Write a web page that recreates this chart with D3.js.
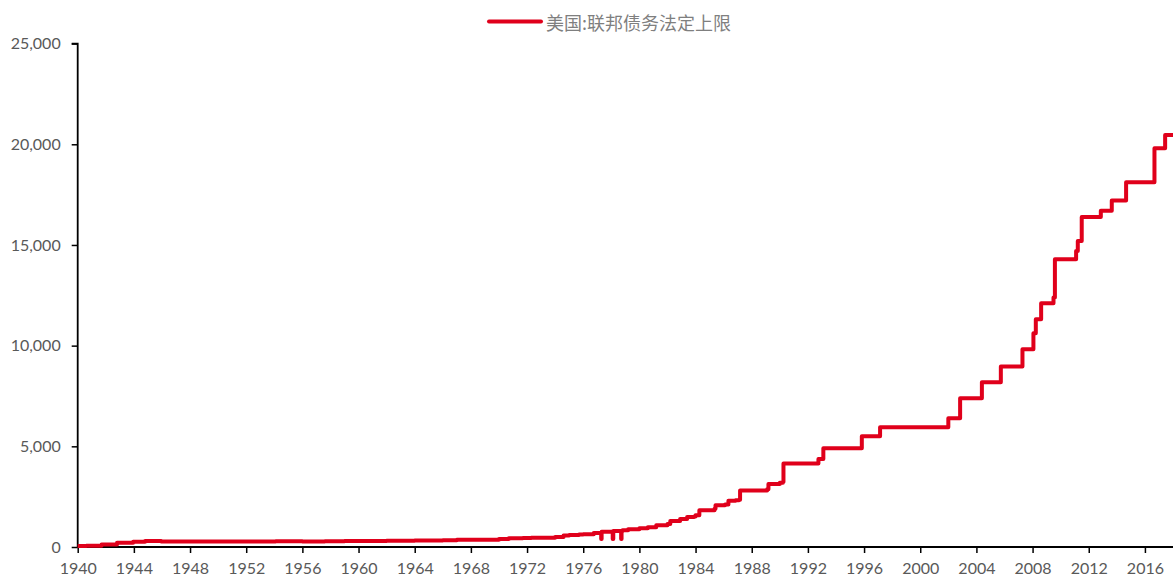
<!DOCTYPE html>
<html>
<head>
<meta charset="utf-8">
<script src="https://cdn.jsdelivr.net/npm/d3@7"></script>
<style>
  html, body { margin: 0; padding: 0; background: #fff; }
  svg { display: block; }
</style>
</head>
<body>
<svg id="chart" width="1173" height="579"></svg>
<script>
// Series name
const seriesName = "美国:联邦债务法定上限";
// Dates (fractional years, as positioned on the chart)
const dates = [
  1940.0, 1940.62, 1941.7, 1942.8, 1943.95, 1944.8, 1945.95, 1954.1, 1956.0, 1957.0,
  1957.6, 1958.2, 1959.0, 1960.0, 1961.0, 1961.7, 1962.0, 1962.85, 1963.1, 1963.35,
  1964.0, 1965.0, 1966.0, 1966.7, 1967.0, 1968.75, 1970.0, 1970.7, 1971.7, 1972.3,
  1974.0, 1974.6, 1975.0, 1975.7, 1976.0, 1976.75, 1977.28, 1977.31, 1978.1, 1978.14,
  1978.7, 1978.73, 1978.8, 1979.2, 1980.0, 1980.5, 1980.6, 1981.2, 1982.0, 1982.2,
  1982.9, 1983.4, 1983.9, 1984.0, 1984.27, 1985.35, 1985.42, 1986.1, 1986.34, 1986.85,
  1987.1, 1987.17, 1989.1, 1989.19, 1990.0, 1990.22, 1990.26, 1992.75, 1993.1, 1995.84,
  1997.14, 2002.0, 2002.84, 2004.39, 2005.74, 2007.28, 2008.06, 2008.23, 2008.61, 2009.49,
  2009.59, 2011.1, 2011.22, 2011.5, 2012.86, 2013.64, 2014.66, 2016.68, 2017.44, 2018.0
];
// Debt limit values (billion USD)
const values = [
  49, 65, 125, 210, 260, 300, 275, 281, 278, 275,
  280, 288, 295, 293, 298, 300, 308, 307, 309, 315,
  324, 328, 330, 336, 358, 365, 395, 430, 450, 465,
  495, 577, 595, 627, 636, 700, 400, 752, 400, 798,
  400, 798, 830, 879, 925, 935, 985, 1080, 1143, 1290,
  1389, 1490, 1520, 1573, 1824, 1904, 2079, 2111, 2300, 2320,
  2352, 2800, 2870, 3123, 3195, 3230, 4145, 4370, 4900, 5500,
  5950, 6400, 7384, 8184, 8965, 9815, 10615, 11315, 12104, 12394,
  14294, 14694, 15194, 16394, 16699, 17212, 18113, 19809, 20456, 20456
];
// Axis ticks
const xTicks = [1940, 1944, 1948, 1952, 1956, 1960, 1964, 1968, 1972, 1976, 1980, 1984, 1988, 1992, 1996, 2000, 2004, 2008, 2012, 2016];
const yTicks = [0, 5000, 10000, 15000, 20000, 25000];

(function () {
const data = dates.map((d, i) => ({ d, v: values[i] }));

const svg = d3.select("#chart");
const mLeft = 77.7, mRight = 1173, mTop = 43.6, mBottom = 547;

const x = d3.scaleLinear().domain([1940, 2018]).range([mLeft, mRight]);
const y = d3.scaleLinear().domain([0, 25000]).range([mBottom, mTop]);

const labelFont = "Lato, 'Open Sans', sans-serif";
const labelColor = "#595959";

// Y axis
const yAxis = svg.append("g")
  .attr("transform", `translate(${mLeft},0)`)
  .call(d3.axisLeft(y).tickValues(yTicks).tickSize(6).tickPadding(11)
    .tickFormat(d3.format(",")));
yAxis.select(".domain").attr("stroke", "#000").attr("stroke-width", 1.8)
  .attr("d", `M-6,${mTop}H0V${mBottom}`);
yAxis.selectAll(".tick line").attr("stroke", "#000").attr("stroke-width", 1.5);
yAxis.selectAll(".tick text").attr("font-family", labelFont).attr("font-size", 16)
  .attr("fill", labelColor);

// X axis
const xAxis = svg.append("g")
  .attr("transform", `translate(0,${mBottom})`)
  .call(d3.axisBottom(x).tickValues(xTicks).tickSize(6).tickPadding(10)
    .tickFormat(d3.format("d")));
xAxis.select(".domain").attr("stroke", "#000").attr("stroke-width", 1.8)
  .attr("d", `M${mLeft},0H${mRight}`);
xAxis.selectAll(".tick line").attr("stroke", "#000").attr("stroke-width", 1.5);
xAxis.selectAll(".tick text").attr("font-family", labelFont).attr("font-size", 16)
  .attr("fill", labelColor);

// Line
const lineColor = "#E0001B";
const line = d3.line()
  .x(p => x(p.d))
  .y(p => y(p.v))
  .curve(d3.curveStepAfter);

svg.append("path")
  .datum(data)
  .attr("fill", "none")
  .attr("stroke", lineColor)
  .attr("stroke-width", 4)
  .attr("stroke-linejoin", "round")
  .attr("d", line);

// Legend
const lg = svg.append("g");
lg.append("line")
  .attr("x1", 489).attr("x2", 541).attr("y1", 21.5).attr("y2", 21.5)
  .attr("stroke", lineColor).attr("stroke-width", 4).attr("stroke-linecap", "round");
lg.append("text")
  .attr("x", 546).attr("y", 21.5)
  .attr("dominant-baseline", "central")
  .attr("font-family", "'Noto Sans CJK SC', sans-serif")
  .attr("font-size", 18)
  .attr("fill", "#7f7f7f")
  .text(seriesName);
})();
</script>
</body>
</html>
